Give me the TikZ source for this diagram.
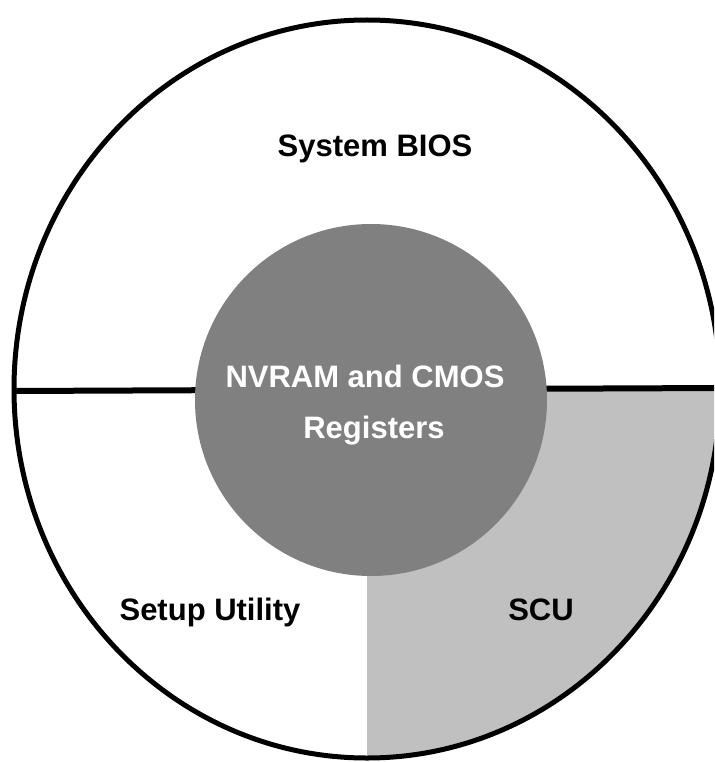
\documentclass[tikz,border=0pt]{standalone}
\usepackage{fontspec}
\setmainfont{Liberation Sans}
\usetikzlibrary{positioning}
\definecolor{coregrey}{HTML}{808080}
\definecolor{scugrey}{HTML}{C0C0C0}

\begin{document}
\begin{tikzpicture}[x=1pt,y=-1pt,
  lbl/.style={font=\fontsize{31}{51}\selectfont\bfseries,anchor=base,inner sep=0pt},
  rim/.style={draw=black,line width=5pt},
  split/.style={draw=black,line width=6pt}]
  \useasboundingbox (0,0) rectangle (714,762);
  \clip (0,0) rectangle (714,762);
  \fill[white] (0,0) rectangle (714,762);
  \coordinate (c) at (367,389);
  % SCU quarter, cut by the outer ring
  \begin{scope}
    \clip (c) ellipse [x radius=353,y radius=369];
    \fill[scugrey] (367,390) rectangle (730,770);
  \end{scope}
  \draw[rim] (c) ellipse [x radius=353,y radius=369];
  % divider, hidden behind the core
  \coordinate (wl) at (14,391);
  \coordinate (wr) at (720,388);
  \draw[split] (wl) -- (wr);
  \node[circle,fill=coregrey,minimum size=352pt,inner sep=0pt] (core) at (371,400) {};
  \node[lbl,white] (nv) at (365,387) {NVRAM and CMOS};
  \node[lbl,white] (reg) at (374,438) {Registers};
  \node[lbl] (bios) at (375,157) {System BIOS};
  \node[lbl] (setup) at (210,620) {Setup Utility};
  \node[lbl] (scu) at (541,620) {SCU};
\end{tikzpicture}
\end{document}
